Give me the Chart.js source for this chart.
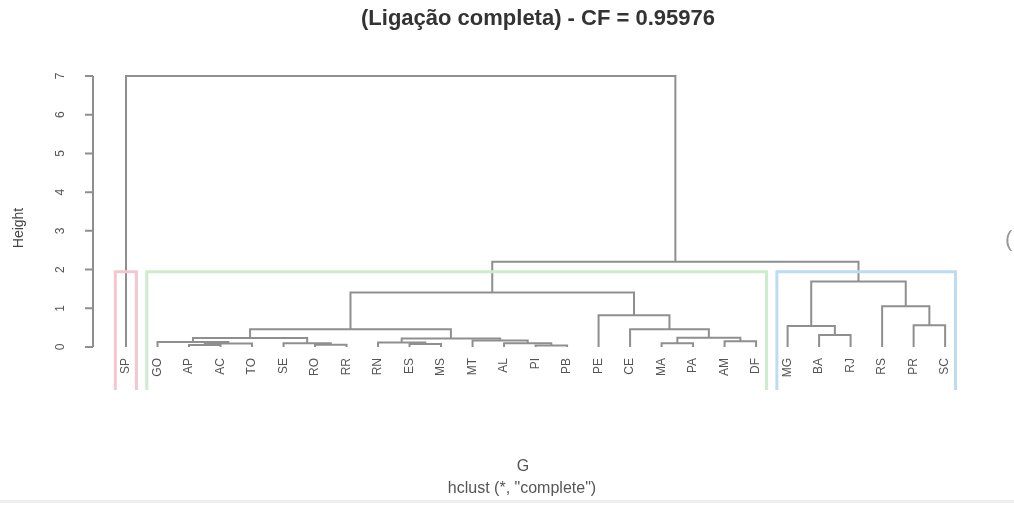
<!DOCTYPE html>
<html>
<head>
<meta charset="utf-8">
<script src="https://cdn.jsdelivr.net/npm/chart.js@4"></script>
<style>
    html, body { margin: 0; padding: 0; background: #ffffff; }
    #wrap { position: relative; width: 1014px; height: 505px; }
</style>
</head>
<body>
<div id="wrap"><canvas id="dendro"></canvas></div>
<script>
// leaves in plotting order
const leafLabels = ['SP', 'GO', 'AP', 'AC', 'TO', 'SE', 'RO', 'RR', 'RN', 'ES', 'MS', 'MT', 'AL', 'PI',
    'PB', 'PE', 'CE', 'MA', 'PA', 'AM', 'DF', 'MG', 'BA', 'RJ', 'RS', 'PR', 'SC'];

// merge table, hclust style: -k = leaf k, +r = merge row r
const mergeLeft = [-3, 1, -2, -7, -6, 3, -10, -9, -14, -13, -12, 8, 6, -18, -20, 14, -17, -16, 13,
    -23, -22, -26, -25, 21, 19, -1];
const mergeRight = [-4, -5, 2, -8, 4, 5, -11, 7, -15, 9, 10, 11, 12, -19, -21, 15, 16, 17, 18,
    -24, 20, -27, 22, 23, 24, 25];
const mergeHeights = [0.05, 0.09, 0.13, 0.06, 0.10, 0.23, 0.08, 0.12, 0.04, 0.10, 0.17, 0.22, 0.46,
    0.10, 0.15, 0.24, 0.46, 0.82, 1.41, 0.31, 0.54, 0.56, 1.05, 1.69, 2.20, 7.00];

const yTicks = [0, 1, 2, 3, 4, 5, 6, 7];
const clusterSizes = [1, 20, 6];
const clusterColors = ['#f3c7cf', '#cdebcd', '#bddcf1'];

const yMin = -1.11;
const yMax = 7.413;

// build segments of the tree
const nodes = [];
const datasets = [];

function nodePos(ref) {
    if (ref < 0) return { x: -ref, y: 0 };
    return nodes[ref - 1];
}

for (let i = 0; i < mergeHeights.length; i++) {
    const l = nodePos(mergeLeft[i]);
    const r = nodePos(mergeRight[i]);
    const h = mergeHeights[i];
    nodes.push({ x: (l.x + r.x) / 2, y: h });
    datasets.push({
        data: [{ x: l.x, y: l.y }, { x: l.x, y: h }, { x: r.x, y: h }, { x: r.x, y: r.y }],
        borderColor: '#8f8f8f',
        borderWidth: 2,
        pointRadius: 0,
        showLine: true,
        tension: 0,
        order: 1
    });
}

// rect.hclust style boxes for k = 3
const sortedH = mergeHeights.slice().sort((a, b) => b - a);
const k = clusterSizes.length;
const rectTop = (sortedH[k - 2] + sortedH[k - 1]) / 2;
let start = 0;
clusterSizes.forEach((size, i) => {
    const x0 = start + 0.66;
    const x1 = start + size + 0.33;
    datasets.push({
        data: [{ x: x0, y: yMin }, { x: x0, y: rectTop }, { x: x1, y: rectTop }, { x: x1, y: yMin }],
        borderColor: clusterColors[i],
        borderWidth: 3,
        pointRadius: 0,
        showLine: true,
        tension: 0,
        order: 0
    });
    start += size;
});

const textPlugin = {
    id: 'textPlugin',
    afterDraw(chart) {
        const ctx = chart.ctx;
        const xs = chart.scales.x;
        const ys = chart.scales.y;
        const left = chart.chartArea.left;
        ctx.save();

        // y axis
        ctx.strokeStyle = '#8f8f8f';
        ctx.lineWidth = 2;
        ctx.beginPath();
        ctx.moveTo(left, ys.getPixelForValue(yTicks[0]));
        ctx.lineTo(left, ys.getPixelForValue(yTicks[yTicks.length - 1]));
        yTicks.forEach(t => {
            const py = ys.getPixelForValue(t);
            ctx.moveTo(left, py);
            ctx.lineTo(left - 8, py);
        });
        ctx.stroke();

        ctx.fillStyle = '#555';
        ctx.font = '12px "Liberation Sans", Arial, sans-serif';
        ctx.textAlign = 'center';
        ctx.textBaseline = 'middle';
        yTicks.forEach(t => {
            ctx.save();
            ctx.translate(61, ys.getPixelForValue(t));
            ctx.rotate(-Math.PI / 2);
            ctx.fillText(String(t), 0, 0);
            ctx.restore();
        });

        ctx.save();
        ctx.translate(19, 228);
        ctx.rotate(-Math.PI / 2);
        ctx.font = '14px "Liberation Sans", Arial, sans-serif';
        ctx.fillStyle = '#444';
        ctx.fillText('Height', 0, 0);
        ctx.restore();

        // leaf labels
        ctx.font = '12px "Liberation Sans", Arial, sans-serif';
        ctx.fillStyle = '#555';
        ctx.textAlign = 'right';
        leafLabels.forEach((lab, i) => {
            ctx.save();
            ctx.translate(xs.getPixelForValue(i + 1), 358);
            ctx.rotate(-Math.PI / 2);
            ctx.fillText(lab, 0, 0);
            ctx.restore();
        });

        // titles
        ctx.textAlign = 'center';
        ctx.fillStyle = '#333';
        ctx.font = 'bold 22px "Liberation Sans", Arial, sans-serif';
        ctx.fillText('(Ligação completa) - CF = 0.95976', 538, 19);
        ctx.font = '16px "Liberation Sans", Arial, sans-serif';
        ctx.fillStyle = '#555';
        ctx.fillText('G', 523, 467);
        ctx.fillText('hclust (*, "complete")', 522, 489);

        // cut-off glyph at right edge
        ctx.fillStyle = '#999';
        ctx.font = '22px "Liberation Sans", Arial, sans-serif';
        ctx.textAlign = 'left';
        ctx.fillText('(', 1005, 240);

        // faint bottom border
        ctx.fillStyle = '#eeeeee';
        ctx.fillRect(0, 500, 1014, 3);
        ctx.restore();
    }
};

new Chart(document.getElementById('dendro').getContext('2d'), {
    type: 'scatter',
    data: { datasets: datasets },
    options: {
        responsive: true,
        maintainAspectRatio: false,
        animation: false,
        layout: { padding: { left: 93, right: 38, top: 60, bottom: 115 } },
        plugins: {
            legend: { display: false },
            tooltip: { enabled: false },
            title: { display: false }
        },
        scales: {
            x: { type: 'linear', min: -0.048, max: 27.98, display: false },
            y: { type: 'linear', min: yMin, max: yMax, display: false }
        }
    },
    plugins: [textPlugin]
});
</script>
</body>
</html>
